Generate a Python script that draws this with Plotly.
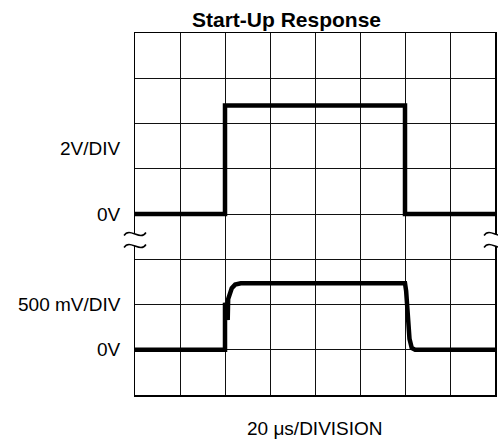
import plotly.graph_objects as go

# ---- data ----
time_us = [0, 40, 40, 120, 120, 160]                      # top trace time (µs)
top_volts = [0, 0, 4.8, 4.8, 0, 0]                          # top trace (2 V/div)

bot_time_us = [0, 40, 40, 41.2, 41.4, 42, 43, 44.5, 47, 120, 120.5, 122, 123, 124.5, 160]
bot_volts = [0, 0, 0.52, 0.33, 0.56, 0.62, 0.68, 0.72, 0.735, 0.735, 0.65, 0.12, 0.02, 0.0, 0.0]

title_text = "Start-Up Response"
label_top_scale = "2V/DIV"
label_bot_scale = "500 mV/DIV"
label_zero = "0V"
x_label = "20 \u03bcs/DIVISION"

W, H = 498, 439
# plot area in page pixels: x 135..497, y 33..395
PL, PR, PT, PB = 135, 497, 33, 395
L, R, T, B = PL, W - PR, PT, H - PB
PW, PH = PR - PL, PB - PT

def px(x):
    return (x - PL) / PW

def py(y):
    return (PB - y) / PH

fig = go.Figure()
fig.add_trace(go.Scatter(x=time_us, y=top_volts, mode="lines",
                         line=dict(color="black", width=4.5), yaxis="y", showlegend=False,
                         hoverinfo="skip"))
fig.add_trace(go.Scatter(x=bot_time_us, y=bot_volts, mode="lines",
                         line=dict(color="black", width=4.5, shape="linear"), yaxis="y2",
                         showlegend=False, hoverinfo="skip"))

label_font = dict(family="Liberation Sans, Arial, sans-serif", size=19, color="black")

annotations = [
    dict(text=label_top_scale, xref="paper", yref="paper", x=px(123), y=py(148),
         xanchor="right", yanchor="middle", showarrow=False, font=label_font),
    dict(text=label_zero, xref="paper", yref="y", x=px(123), y=0,
         xanchor="right", yanchor="middle", showarrow=False, font=label_font),
    dict(text=label_bot_scale, xref="paper", yref="y2", x=px(123), y=0.5,
         xanchor="right", yanchor="middle", showarrow=False, font=label_font),
    dict(text=label_zero, xref="paper", yref="y2", x=px(123), y=0,
         xanchor="right", yanchor="middle", showarrow=False, font=label_font),
    dict(text=x_label, xref="paper", yref="paper", x=0.5, y=py(428),
         xanchor="center", yanchor="middle", showarrow=False, font=label_font, borderpad=0),
    dict(text="<b>" + title_text + "</b>", xref="paper", yref="paper", x=px(287), y=py(20),
         xanchor="center", yanchor="middle", showarrow=False,
         font=dict(family="Liberation Sans, Arial, sans-serif", size=21, color="black")),
]

def tilde_path(cx, cy, w=11, a=7.5):
    pts = [(cx - w, cy + 1.5), (cx - w / 2, cy - a), (cx + w / 2, cy + a), (cx + w, cy - 1.5)]
    p = [(px(x), py(y)) for x, y in pts]
    return "M {} {} C {} {}, {} {}, {} {}".format(p[0][0], p[0][1], p[1][0], p[1][1],
                                                 p[2][0], p[2][1], p[3][0], p[3][1])

shapes = []
for cx in (135, 497):
    shapes.append(dict(type="rect", xref="paper", yref="paper", x0=px(cx - 2.5), x1=px(cx + 2.5),
                       y0=py(246), y1=py(234), fillcolor="white", line=dict(width=0), layer="above"))
    for cy in (234, 246):
        shapes.append(dict(type="path", xref="paper", yref="paper", path=tilde_path(cx, cy),
                           line=dict(color="black", width=1.5), layer="above"))

fig.update_layout(
    width=W, height=H,
    margin=dict(l=L, r=R, t=T, b=B, pad=0),
    paper_bgcolor="white", plot_bgcolor="white",
    xaxis=dict(range=[0, 160], dtick=20, tick0=0, showgrid=True, gridcolor="#111111", gridwidth=1,
               showticklabels=False, ticks="", zeroline=False, showline=True, linecolor="black",
               linewidth=1.5, mirror=True, fixedrange=True),
    yaxis=dict(range=[-8, 8], dtick=2, tick0=0, showgrid=True, gridcolor="#111111", gridwidth=1,
               showticklabels=False, ticks="", zeroline=False, showline=True, linecolor="black",
               linewidth=1.5, mirror=True, fixedrange=True),
    yaxis2=dict(range=[-0.5, 3.5], overlaying="y", visible=False, fixedrange=True),
    annotations=annotations,
    shapes=shapes,
    showlegend=False,
)

fig.write_html("out.html",
               config={"displayModeBar": False, "staticPlot": True},
               post_script="document.body.style.margin='0px';document.body.style.overflow='hidden';")
